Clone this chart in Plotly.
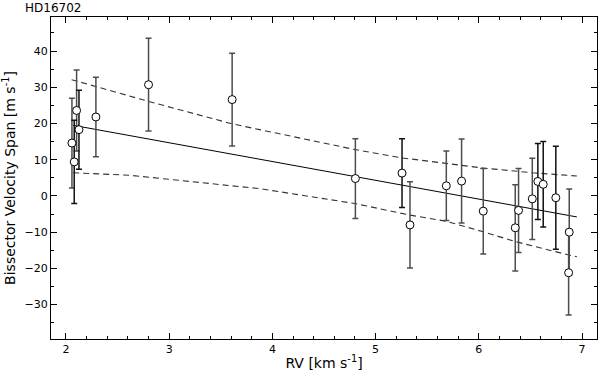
import plotly.graph_objects as go

# bisector span vs RV for HD16702
rv = [2.058, 2.080, 2.103, 2.126, 2.29, 2.80, 3.61, 4.804, 5.256, 5.333, 5.685,
      5.833, 6.043, 6.353, 6.385, 6.518, 6.572, 6.624, 6.746, 6.876, 6.870]
bis = [14.6, 9.4, 23.6, 18.3, 21.8, 30.7, 26.6, 4.8, 6.3, -8.0, 2.8,
       4.1, -4.2, -8.8, -4.0, -0.8, 4.0, 3.2, -0.5, -10.0, -21.2]
bis_err = [12.4, 11.5, 11.2, 10.9, 11.0, 12.8, 12.8, 11.0, 9.5, 11.9, 9.6,
           11.6, 11.8, 11.9, 11.6, 11.2, 10.5, 11.8, 14.2, 11.9, 11.7]
# which bars are drawn in black (the rest are dark grey)
black_bar = [False, True, False, True, False, False, False, False, True, False, False,
             False, False, False, False, False, True, True, True, False, False]

fit_x = [2.07, 6.95]
fit_y = [19.5, -5.8]

upper_x = [2.055, 2.80, 3.61, 4.80, 5.256, 5.685, 6.043, 6.518, 6.95]
upper_y = [32.1, 26.1, 19.9, 12.8, 10.5, 8.9, 7.7, 6.4, 5.5]
lower_x = [2.07, 2.62, 3.88, 4.80, 5.333, 5.685, 6.043, 6.353, 6.87, 6.95]
lower_y = [6.4, 5.7, 2.0, -2.1, -5.3, -7.0, -9.9, -12.6, -16.3, -16.8]

FONT = "DejaVu Sans"

fig = go.Figure()

# confidence band + fit
for xs, ys in [(upper_x, upper_y), (lower_x, lower_y)]:
    fig.add_trace(go.Scatter(x=xs, y=ys, mode="lines", line=dict(color="#333333", width=1.1, dash="6px,4px"),
                             hoverinfo="skip"))
fig.add_trace(go.Scatter(x=fit_x, y=fit_y, mode="lines", line=dict(color="black", width=1), hoverinfo="skip"))

# error bars, two shades
for flag, col in [(False, "#4d4d4d"), (True, "#111111")]:
    idx = [i for i in range(len(rv)) if black_bar[i] == flag]
    fig.add_trace(go.Scatter(
        x=[rv[i] for i in idx], y=[bis[i] for i in idx], mode="markers",
        marker=dict(size=1, color="rgba(0,0,0,0)"),
        error_y=dict(type="data", array=[bis_err[i] for i in idx], color=col, thickness=1.5, width=3),
    ))

# open circles on top
fig.add_trace(go.Scatter(x=rv, y=bis, mode="markers",
                         marker=dict(size=8, color="white", line=dict(color="black", width=1))))

axis_common = dict(
    showline=True, linecolor="black", linewidth=1.2, mirror="allticks",
    ticks="inside", ticklen=6, tickwidth=1, tickcolor="black",
    showgrid=False, zeroline=False,
    tickfont=dict(family=FONT, size=11, color="black"),
)

fig.update_xaxes(range=[1.855, 7.145], dtick=1, tick0=0,
                 minor=dict(ticks="inside", ticklen=3, dtick=0.2, tickcolor="black"),
                 title=dict(text="RV [km s<sup>-1</sup>]", font=dict(family=FONT, size=14, color="black"), standoff=2),
                 automargin=False, **axis_common)
fig.update_yaxes(range=[-39.5, 49.4], dtick=10, tick0=0,
                 minor=dict(ticks="inside", ticklen=3, dtick=5, tickcolor="black"),
                 title=dict(text="Bissector Velocity Span [m s<sup>-1</sup>]",
                            font=dict(family=FONT, size=14, color="black"), standoff=6),
                 automargin=False, **axis_common)

fig.update_layout(
    width=600, height=372,
    margin=dict(l=51, r=3, t=17, b=33),
    paper_bgcolor="white", plot_bgcolor="white",
    showlegend=False,
    title=dict(text="HD16702", font=dict(family=FONT, size=12, color="black"),
               x=25 / 600, xref="container", xanchor="left",
               y=1 - 8 / 372, yref="container", yanchor="middle"),
)

fig.write_html("out.html", config={"displayModeBar": False},
               post_script="document.body.style.margin='0';")
